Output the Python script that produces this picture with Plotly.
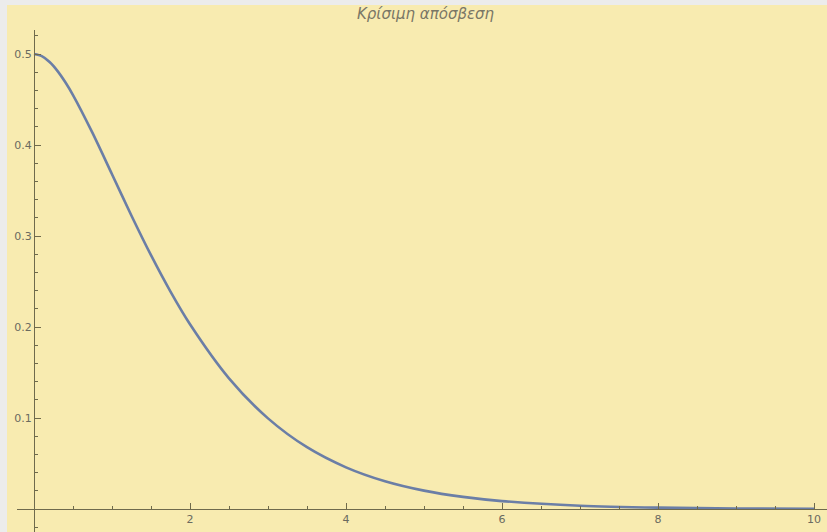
import plotly.graph_objects as go

# Displacement of a critically damped oscillator over time
t_values = [0, 0.1, 0.2, 0.3, 0.4, 0.5, 0.75, 1.0, 1.25, 1.5, 1.75, 2.0, 2.5,
            3.0, 3.5, 4.0, 4.5, 5.0, 5.5, 6.0, 7.0, 8.0, 9.0, 10.0]
x_values = [0.5, 0.4976, 0.4912, 0.4815, 0.4692, 0.4549, 0.4133, 0.3679,
            0.3223, 0.2789, 0.2389, 0.2030, 0.1436, 0.0996, 0.0679, 0.0458,
            0.0305, 0.0202, 0.0133, 0.0087, 0.0036, 0.0015, 0.0006, 0.00025]

x_tick_vals = [2, 4, 6, 8, 10]
x_tick_text = ["2", "4", "6", "8", "10"]
y_tick_vals = [0.1, 0.2, 0.3, 0.4, 0.5]
y_tick_text = ["0.1", "0.2", "0.3", "0.4", "0.5"]
title_text = "Κρίσιμη απόσβεση"

BG = "#f8ebb0"
EDGE = "#ececec"
AXIS = "#6f6a4c"
LABEL = "#6a6a60"
CURVE = "#6b7ea6"

W, H = 827, 532
ML, MT = 17, 30
PW, PH = W - ML, H - MT

fig = go.Figure()
fig.add_trace(go.Scatter(
    x=t_values, y=x_values, mode="lines",
    line=dict(color=CURVE, width=2.6, shape="spline", smoothing=0.8),
    hoverinfo="skip", showlegend=False,
))

fig.update_layout(
    width=W, height=H,
    margin=dict(l=ML, r=0, t=MT, b=0, pad=0),
    paper_bgcolor=BG, plot_bgcolor=BG,
    font=dict(family="DejaVu Sans, sans-serif", size=11, color=LABEL),
    xaxis=dict(
        range=[(ML - 34) / 78, (W - 34) / 78],
        anchor="free", position=(H - 509) / PH,
        showgrid=False, zeroline=False,
        showline=True, linecolor=AXIS, linewidth=1.3,
        tickmode="array", tickvals=x_tick_vals, ticktext=x_tick_text,
        ticks="inside", ticklen=6, tickcolor=AXIS, tickwidth=1,
        minor=dict(tickmode="linear", tick0=0, dtick=0.5, ticks="inside",
                   ticklen=3, tickcolor=AXIS, tickwidth=1, showgrid=False),
        tickfont=dict(size=11, color=LABEL),
    ),
    yaxis=dict(
        range=[(509 - H) / 910, (509 - MT) / 910],
        anchor="free", position=(34 - ML) / PW,
        showgrid=False, zeroline=False,
        showline=True, linecolor=AXIS, linewidth=1.3,
        tickmode="array", tickvals=y_tick_vals, ticktext=y_tick_text,
        ticks="inside", ticklen=6, tickcolor=AXIS, tickwidth=1,
        minor=dict(tickmode="linear", tick0=0, dtick=0.02, ticks="inside",
                   ticklen=3, tickcolor=AXIS, tickwidth=1, showgrid=False),
        tickfont=dict(size=11, color=LABEL),
    ),
    shapes=[
        # light frame strips along the top and left edges
        dict(type="rect", xref="paper", yref="paper",
             x0=-ML / PW, x1=1.0, y0=1 + (MT - 5) / PH, y1=1 + MT / PH,
             fillcolor=EDGE, line=dict(width=0), layer="above"),
        dict(type="rect", xref="paper", yref="paper",
             x0=-ML / PW, x1=-(ML - 7) / PW, y0=-0.01, y1=1 + MT / PH,
             fillcolor=EDGE, line=dict(width=0), layer="above"),
    ],
    annotations=[dict(
        text=title_text, xref="paper", yref="paper",
        x=(426 - ML) / PW, y=1 + (MT - 14) / PH,
        xanchor="center", yanchor="middle", showarrow=False,
        font=dict(family="DejaVu Sans, sans-serif", size=15, color="#7a7766",
                  style="italic"),
    )],
)

fig.write_html("out.html")
